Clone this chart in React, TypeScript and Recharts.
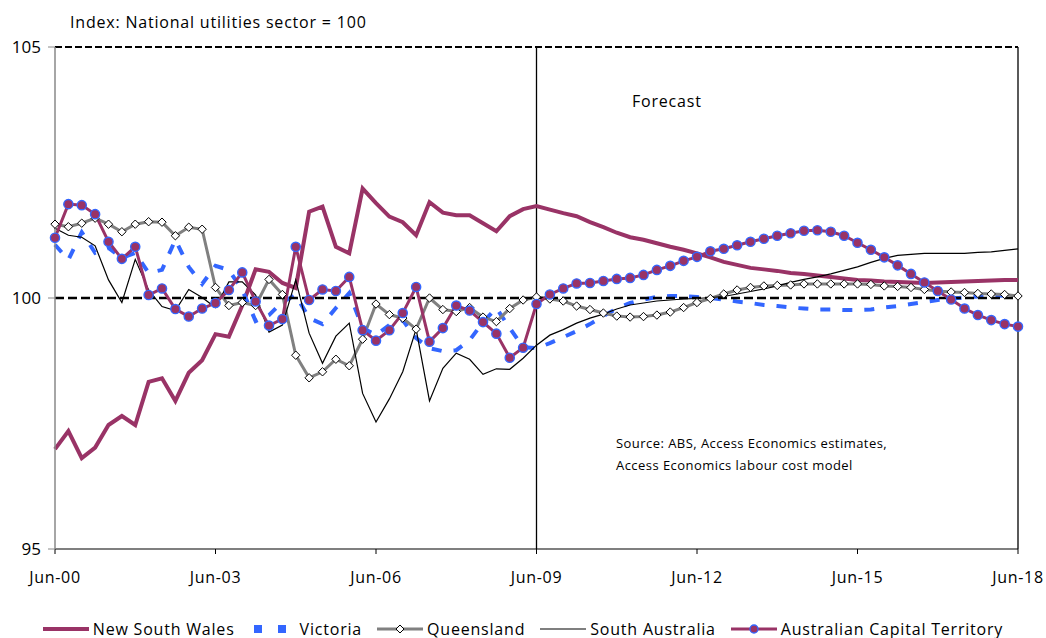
import React from 'react';
import { LineChart, Line, XAxis, YAxis, ReferenceLine, Legend } from 'recharts';

// Quarterly index values, Jun-00 .. Jun-18 (73 quarters)
const NSW = [
  96.99, 97.35, 96.81, 97.02, 97.47, 97.65, 97.47, 98.33, 98.4, 97.95, 98.51, 98.76,
  99.28, 99.23, 99.85, 100.57, 100.52, 100.3, 100.2, 101.72, 101.82, 101.02, 100.89, 102.18,
  101.89, 101.62, 101.51, 101.25, 101.91, 101.7, 101.65, 101.65, 101.49, 101.33, 101.63, 101.77,
  101.83, 101.76, 101.69, 101.63, 101.51, 101.41, 101.3, 101.21, 101.16, 101.09, 101.02, 100.96,
  100.89, 100.81, 100.72, 100.66, 100.6, 100.57, 100.54, 100.5, 100.48, 100.45, 100.42, 100.39,
  100.36, 100.35, 100.33, 100.32, 100.31, 100.3, 100.31, 100.32, 100.33, 100.34, 100.35, 100.36,
  100.36,
];
const VIC = [
  101.06, 100.76, 101.31, 100.9, 101.0, 100.8, 100.9, 100.5, 100.56, 101.16, 100.62, 100.28,
  100.64, 100.56, 100.16, 99.54, 99.66, 99.92, 100.06, 99.6, 99.48, 99.8, 100.1, 99.4,
  99.26, 99.46, 99.56, 99.2, 99.0, 98.94, 98.96, 99.16, 99.52, 99.8, 99.4, 99.02,
  99.0, 99.1, 99.22, 99.34, 99.48, 99.64, 99.79, 99.9, 99.97, 100.02, 100.04, 100.04,
  100.02, 100.0, 99.97, 99.93, 99.9, 99.86, 99.84, 99.81, 99.79, 99.77, 99.77, 99.76,
  99.76, 99.77, 99.81, 99.84, 99.88, 99.92, 99.96, 99.99, 100.01, 100.03, 100.04, 100.05,
  100.06,
];
const QLD = [
  101.47, 101.42, 101.49, 101.59, 101.47, 101.32, 101.47, 101.52, 101.51, 101.24, 101.41, 101.37,
  100.21, 99.85, 99.91, 99.85, 100.37, 100.07, 98.86, 98.41, 98.53, 98.78, 98.65, 99.18,
  99.88, 99.67, 99.6, 99.38, 100.0, 99.77, 99.73, 99.81, 99.62, 99.53, 99.79, 99.96,
  100.02, 99.98, 99.94, 99.84, 99.77, 99.7, 99.64, 99.62, 99.63, 99.66, 99.72, 99.81,
  99.91, 99.99, 100.08, 100.16, 100.21, 100.24, 100.25, 100.26, 100.28, 100.28, 100.28, 100.28,
  100.28, 100.27, 100.24, 100.23, 100.21, 100.17, 100.14, 100.12, 100.11, 100.09, 100.08, 100.07,
  100.04,
];
const SA = [
  101.39, 101.25, 101.21, 101.04, 100.36, 99.91, 100.77, 100.16, 99.83, 99.75, 100.17, 100.01,
  99.81, 100.32, 100.32, 100.06, 99.32, 99.46, 100.36, 99.3, 98.7, 99.24, 99.5, 98.1,
  97.53, 97.99, 98.53, 99.38, 97.95, 98.6, 98.9, 98.78, 98.48, 98.59, 98.58, 98.8,
  99.06, 99.26, 99.37, 99.5, 99.6, 99.68, 99.78, 99.86, 99.9, 99.94, 99.96, 99.98,
  99.99, 100.01, 100.03, 100.08, 100.13, 100.18, 100.24, 100.31, 100.37, 100.42, 100.48, 100.55,
  100.62, 100.71, 100.79, 100.85, 100.87, 100.89, 100.89, 100.89, 100.89, 100.91, 100.92, 100.95,
  100.98,
];
const ACT = [
  101.2, 101.87, 101.85, 101.67, 101.12, 100.78, 101.02, 100.06, 100.19, 99.78, 99.63, 99.79,
  99.9, 100.16, 100.51, 99.93, 99.45, 99.58, 101.02, 99.96, 100.17, 100.14, 100.42, 99.36,
  99.15, 99.36, 99.7, 100.22, 99.13, 99.4, 99.85, 99.75, 99.52, 99.29, 98.81, 99.01,
  99.88, 100.07, 100.19, 100.29, 100.3, 100.34, 100.38, 100.4, 100.46, 100.56, 100.64, 100.74,
  100.82, 100.93, 100.98, 101.05, 101.12, 101.18, 101.24, 101.29, 101.34, 101.35, 101.32, 101.24,
  101.1, 100.96, 100.81, 100.65, 100.48, 100.31, 100.14, 99.97, 99.79, 99.66, 99.56, 99.48,
  99.43,
];

const X_TICKS = [0, 12, 24, 36, 48, 60, 72];
const X_TICK_LABELS = ['Jun-00', 'Jun-03', 'Jun-06', 'Jun-09', 'Jun-12', 'Jun-15', 'Jun-18'];
const Y_TICKS = [95, 100, 105];
const FORECAST_START = 36;

const SERIES_NAMES = ['New South Wales', 'Victoria', 'Queensland', 'South Australia', 'Australian Capital Territory'];

const data = NSW.map((v, i) => ({
  q: i,
  nsw: v,
  vic: VIC[i],
  qld: QLD[i],
  sa: SA[i],
  act: ACT[i],
}));

const MAROON = '#993366';
const BLUE = '#3366ff';
const GREY = '#808080';
const FONT = '"Open Sans", "Noto Sans", sans-serif';

const Diamond = (props: any) => {
  const { cx, cy, index } = props;
  if (cx == null || cy == null) return <g key={`d-${index}`} />;
  const s = 4.2;
  return (
    <path
      key={`d-${index}`}
      d={`M${cx},${cy - s}L${cx + s},${cy}L${cx},${cy + s}L${cx - s},${cy}Z`}
      fill="#ffffff"
      stroke="#000000"
      strokeWidth={1}
    />
  );
};

const ActDot = (props: any) => {
  const { cx, cy, index } = props;
  if (cx == null || cy == null) return <g key={`a-${index}`} />;
  return <circle key={`a-${index}`} cx={cx} cy={cy} r={4.6} fill={MAROON} stroke={BLUE} strokeWidth={1.4} />;
};

const LegendIcon = ({ idx }: { idx: number }) => {
  const w = 46;
  const h = 14;
  const m = h / 2;
  let inner: React.ReactNode = null;
  if (idx === 0) inner = <line x1={0} y1={m} x2={w} y2={m} stroke={MAROON} strokeWidth={4} />;
  if (idx === 1)
    inner = (
      <g>
        <rect x={4} y={m - 4} width={8} height={8} fill={BLUE} />
        <rect x={28} y={m - 4} width={8} height={8} fill={BLUE} />
      </g>
    );
  if (idx === 2)
    inner = (
      <g>
        <line x1={0} y1={m} x2={w} y2={m} stroke={GREY} strokeWidth={3} />
        <path d={`M23,${m - 4}L27,${m}L23,${m + 4}L19,${m}Z`} fill="#fff" stroke="#000" strokeWidth={1} />
      </g>
    );
  if (idx === 3) inner = <line x1={0} y1={m} x2={w} y2={m} stroke="#000" strokeWidth={1.2} />;
  if (idx === 4)
    inner = (
      <g>
        <line x1={0} y1={m} x2={w} y2={m} stroke={MAROON} strokeWidth={3} />
        <circle cx={23} cy={m} r={4} fill={MAROON} stroke={BLUE} strokeWidth={1.3} />
      </g>
    );
  return (
    <svg width={w} height={h} style={{ display: 'block' }}>
      {inner}
    </svg>
  );
};

const renderLegend = () => (
  <div
    style={{
      display: 'flex',
      justifyContent: 'center',
      alignItems: 'center',
      fontFamily: FONT,
      fontSize: 16,
      letterSpacing: 0.8,
      color: '#000',
      height: 22,
      lineHeight: '22px',
    }}
  >
    {SERIES_NAMES.map((name, i) => (
      <div key={name} style={{ display: 'flex', alignItems: 'center', marginLeft: i === 0 ? 0 : 15 }}>
        <LegendIcon idx={i} />
        <span style={{ marginLeft: 4, whiteSpace: 'nowrap' }}>{name}</span>
      </div>
    ))}
  </div>
);

export default function App() {
  return (
    <div style={{ position: 'absolute', left: 0, top: 0, width: 1046, height: 638, background: '#fff' }}>
      <LineChart
        width={1046}
        height={638}
        data={data}
        margin={{ top: 47, right: 28, bottom: 59, left: 0 }}
      >
        <XAxis
          dataKey="q"
          type="number"
          domain={[0, 72]}
          ticks={X_TICKS}
          tickFormatter={(v: number) => X_TICK_LABELS[X_TICKS.indexOf(v)] ?? ''}
          height={30}
          axisLine={{ stroke: '#000', strokeWidth: 1.2 }}
          tickLine={{ stroke: '#000' }}
          tickSize={5}
          tickMargin={18}
          tick={{ fill: '#000', fontSize: 16, fontFamily: FONT, letterSpacing: 0.7 }}
          interval={0}
        />
        <YAxis
          type="number"
          domain={[95, 105]}
          ticks={Y_TICKS}
          width={55}
          axisLine={{ stroke: '#888', strokeWidth: 1.5 }}
          tickLine={{ stroke: '#888' }}
          tickSize={7}
          tickMargin={7}
          tick={{ fill: '#000', fontSize: 17, fontFamily: FONT }}
          interval={0}
          allowDataOverflow
        />
        <ReferenceLine y={105} stroke="#000" strokeWidth={2} strokeDasharray="7 3" />
        <ReferenceLine x={FORECAST_START} stroke="#000" strokeWidth={1.3} />
        <ReferenceLine x={72} stroke="#000" strokeWidth={1.3} />
        <Line
          type="linear"
          dataKey="nsw"
          name={SERIES_NAMES[0]}
          stroke={MAROON}
          strokeWidth={4}
          dot={false}
          isAnimationActive={false}
        />
        <Line
          type="linear"
          dataKey="vic"
          name={SERIES_NAMES[1]}
          stroke={BLUE}
          strokeWidth={4}
          strokeDasharray="10 12"
          dot={false}
          isAnimationActive={false}
        />
        <Line
          type="linear"
          dataKey="qld"
          name={SERIES_NAMES[2]}
          stroke={GREY}
          strokeWidth={3}
          dot={Diamond}
          isAnimationActive={false}
        />
        <Line
          type="linear"
          dataKey="sa"
          name={SERIES_NAMES[3]}
          stroke="#000"
          strokeWidth={1.2}
          dot={false}
          isAnimationActive={false}
        />
        <ReferenceLine y={100} stroke="#000" strokeWidth={2.5} strokeDasharray="9 4" />
        <Line
          type="linear"
          dataKey="act"
          name={SERIES_NAMES[4]}
          stroke={MAROON}
          strokeWidth={3}
          dot={ActDot}
          isAnimationActive={false}
        />
        <Legend
          layout="horizontal"
          verticalAlign="middle"
          align="center"
          content={renderLegend}
          wrapperStyle={{ top: 618, left: 0, width: 1046, height: 22 }}
        />
      </LineChart>
      <div
        style={{
          position: 'absolute',
          left: 70,
          top: 10,
          fontFamily: FONT,
          fontSize: 16,
          letterSpacing: 0.8,
          lineHeight: '24px',
          color: '#000',
          whiteSpace: 'nowrap',
        }}
      >
        Index: National utilities sector = 100
      </div>
      <div
        style={{
          position: 'absolute',
          left: 632,
          top: 89,
          fontFamily: FONT,
          fontSize: 16,
          letterSpacing: 0.8,
          lineHeight: '24px',
          color: '#000',
          whiteSpace: 'nowrap',
        }}
      >
        Forecast
      </div>
      <div
        style={{
          position: 'absolute',
          left: 616,
          top: 432,
          fontFamily: FONT,
          fontSize: 13,
          letterSpacing: 0.45,
          lineHeight: '22px',
          color: '#000',
          whiteSpace: 'nowrap',
        }}
      >
        <div>Source: ABS, Access Economics estimates,</div>
        <div>Access Economics labour cost model</div>
      </div>
    </div>
  );
}
